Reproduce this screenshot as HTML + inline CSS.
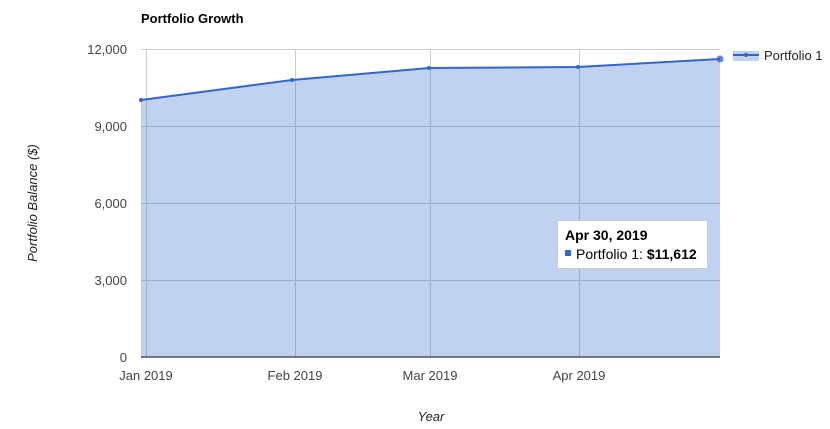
<!DOCTYPE html>
<html><head><meta charset="utf-8"><style>body{margin:0;background:#fff}svg{display:block;font-family:"Liberation Sans",Arial,sans-serif}</style></head>
<body>
<svg width="830" height="429" xmlns="http://www.w3.org/2000/svg">
<text x="141" y="23" font-size="13" font-weight="bold" fill="#000">Portfolio Growth</text>
<g stroke="#cccccc" stroke-width="1">
<line x1="141" y1="49.5" x2="720" y2="49.5"/>
<line x1="141" y1="126.5" x2="720" y2="126.5"/>
<line x1="141" y1="203.5" x2="720" y2="203.5"/>
<line x1="141" y1="280.5" x2="720" y2="280.5"/>
<line x1="146.5" y1="49" x2="146.5" y2="357"/>
<line x1="295.5" y1="49" x2="295.5" y2="357"/>
<line x1="430.5" y1="49" x2="430.5" y2="357"/>
<line x1="579.5" y1="49" x2="579.5" y2="357"/>
</g>
<path d="M141,100 L292,80 L429,68 L578,67 L720,59 L720,357 L141,357 Z" fill="#3366cc" fill-opacity="0.3"/>
<line x1="141" y1="357" x2="720" y2="357" stroke="#333" stroke-width="1.2"/>
<polyline points="141,100 292,80 429,68 578,67 720,59" fill="none" stroke="#3366cc" stroke-width="2"/>
<g fill="#3366cc"><circle cx="141" cy="100" r="2"/><circle cx="292" cy="80" r="2"/><circle cx="429" cy="68" r="2"/><circle cx="578" cy="67" r="2"/><circle cx="720" cy="59" r="3.5" fill-opacity="0.8"/></g>
<g font-size="13" fill="#444" text-anchor="end">
<text x="127" y="54">12,000</text><text x="127" y="131">9,000</text><text x="127" y="208">6,000</text><text x="127" y="285">3,000</text><text x="127" y="362">0</text>
</g>
<g font-size="13" fill="#444" text-anchor="middle">
<text x="146" y="380">Jan 2019</text><text x="295" y="380">Feb 2019</text><text x="430" y="380">Mar 2019</text><text x="579" y="380">Apr 2019</text>
</g>
<text x="431" y="421" font-size="13" font-style="italic" fill="#222" text-anchor="middle">Year</text>
<text transform="translate(37,203) rotate(-90)" font-size="13" font-style="italic" fill="#222" text-anchor="middle">Portfolio Balance ($)</text>
<rect x="733" y="51" width="26" height="10" fill="#3366cc" fill-opacity="0.3"/>
<line x1="733" y1="55" x2="759" y2="55" stroke="#3366cc" stroke-width="2"/>
<circle cx="746" cy="55" r="2" fill="#3366cc"/>
<text x="764" y="60" font-size="13" fill="#222">Portfolio 1</text>
<rect x="557.5" y="220.5" width="150" height="48" fill="#fff" stroke="#ccc"/>
<text x="565" y="240" font-size="14" font-weight="bold" fill="#000">Apr 30, 2019</text>
<rect x="565" y="250" width="6" height="6" fill="#3366cc"/>
<text x="576" y="259" font-size="14" fill="#000">Portfolio 1: <tspan font-weight="bold">$11,612</tspan></text>
</svg>
</body></html>
